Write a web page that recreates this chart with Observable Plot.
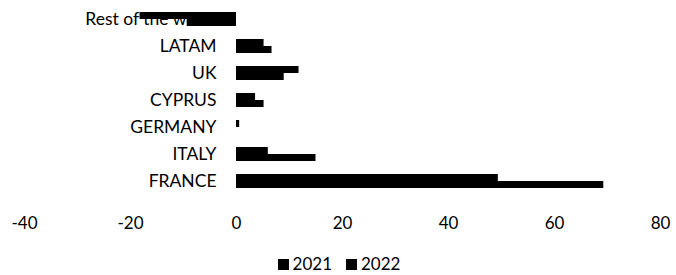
<!DOCTYPE html>
<html>
<head>
<meta charset="utf-8">
<script src="https://cdn.jsdelivr.net/npm/d3@7"></script>
<script src="https://cdn.jsdelivr.net/npm/@observablehq/plot@0.6"></script>
<style>
  html, body { margin: 0; padding: 0; background: #fff; }
  body { width: 676px; height: 275px; font-family: Lato, "Liberation Sans", sans-serif; }
  #chart svg { display: block; }
  #legend { display: flex; justify-content: center; align-items: center; gap: 14px; font-size: 17px; line-height: 20px; color: #000; height: 20px; margin-top: 16px; padding-left: 2px; }
  #legend .item { display: flex; align-items: center; gap: 4px; }
  #legend .sw { width: 11px; height: 11px; background: #000; display: inline-block; }
</style>
</head>
<body>
<div id="chart"></div>
<div id="legend"></div>
<script>
const categories = ["Rest of the world", "LATAM", "UK", "CYPRUS", "GERMANY", "ITALY", "FRANCE"];
const series = ["2021", "2022"];
const values2021 = [-9.3, 6.7, 9.0, 5.2, 0.0, 15.0, 69.3];
const values2022 = [-18.2, 5.2, 11.8, 3.6, 0.6, 6.0, 49.4];
const xTicks = [-40, -20, 0, 20, 40, 60, 80];

const d21 = categories.map((c, i) => ({category: c, value: values2021[i], series: series[0]}));
const d22 = categories.map((c, i) => ({category: c, value: values2022[i], series: series[1]}));

const bw = 14; // band thickness for the pair
const chart = Plot.plot({
  width: 676,
  height: 238,
  marginTop: 0,
  marginLeft: 24,
  marginRight: 16,
  marginBottom: 28,
  style: {fontFamily: "Lato, 'Liberation Sans', sans-serif", fontSize: "17px", color: "#000", background: "#fff"},
  x: {domain: [-40, 80], ticks: xTicks, tickFormat: d => String(d), label: null},
  y: {domain: categories, range: [4, 196], paddingInner: 0.49, paddingOuter: 0.25, label: null, axis: null},
  marks: [
    Plot.axisX({ticks: xTicks, tickSize: 0, tickPadding: 6, fontSize: 17, tickFormat: d => String(d), label: null}),
    Plot.text(categories, {x: () => 0, y: d => d, dx: -20, textAnchor: "end", fontSize: 17.5, fill: "#000"}),
    Plot.barX(d21, {x: "value", y: "category", fill: "#000", insetTop: bw / 2}),
    Plot.barX(d22, {x: "value", y: "category", fill: "#000", insetBottom: bw / 2})
  ]
});
document.getElementById("chart").appendChild(chart);

const legend = document.getElementById("legend");
series.forEach(s => {
  const item = document.createElement("span");
  item.className = "item";
  const sw = document.createElement("span");
  sw.className = "sw";
  item.appendChild(sw);
  item.appendChild(document.createTextNode(s));
  legend.appendChild(item);
});
</script>
</body>
</html>
